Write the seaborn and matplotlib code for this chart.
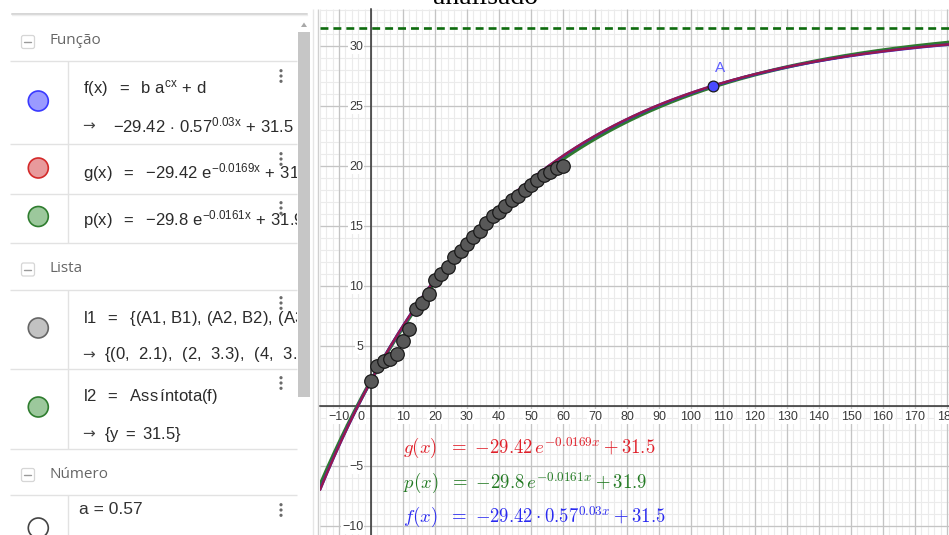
import numpy as np
import pandas as pd
import matplotlib
matplotlib.use("Agg")
import matplotlib.pyplot as plt
import seaborn as sns
from matplotlib.patches import Circle, Rectangle, FancyBboxPatch, Polygon
from matplotlib.transforms import Bbox, TransformedBbox
from matplotlib.ticker import MultipleLocator, FixedLocator

# ---- data: list l1 (time, value) ----
x_data = [0, 2, 4, 6, 8, 10, 12, 14, 16, 18, 20, 22, 24, 26, 28, 30,
          32, 34, 36, 38, 40, 42, 44, 46, 48, 50, 52, 54, 56, 58, 60]
y_data = [2.1, 3.3, 3.7, 3.9, 4.3, 5.4, 6.4, 8.1, 8.6, 9.3, 10.5, 11.0,
          11.6, 12.4, 12.9, 13.5, 14.1, 14.6, 15.2, 15.8, 16.1, 16.6,
          17.1, 17.5, 18.0, 18.4, 18.8, 19.2, 19.5, 19.8, 20.0]

# ---- fitted models ----
g_coef = (-29.42, -0.0169, 31.5)          # g(x) = A e^(k x) + C
p_coef = (-29.8, -0.0161, 31.9)           # p(x) = A e^(k x) + C
f_b, f_a, f_c, f_d = -29.42, 0.57, 0.03, 31.5   # f(x) = b a^(c x) + d
asymptote_y = 31.5
point_a_x = 107

x_tick_vals = [-10, 10, 20, 30, 40, 50, 60, 70, 80, 90, 100, 110, 120,
               130, 140, 150, 160, 170, 180]
y_tick_vals = [-10, -5, 5, 10, 15, 20, 25, 30]

sns.set_theme(style="white")
plt.rcParams["font.family"] = ["Liberation Sans", "DejaVu Sans"]
plt.rcParams["mathtext.fontset"] = "custom"
plt.rcParams["mathtext.rm"] = "Liberation Sans"
plt.rcParams["mathtext.it"] = "Liberation Sans"
plt.rcParams["mathtext.bf"] = "Liberation Sans:bold"
plt.rcParams["axes.unicode_minus"] = True

W, H = 949, 535
fig = plt.figure(figsize=(W / 100, H / 100), dpi=100)
fig.patch.set_facecolor("white")

# ---------------- algebra panel (pixel coordinates) ----------------
pan = fig.add_axes([0, 0, 1, 1], zorder=0)
pan.set_xlim(0, W)
pan.set_ylim(H, 0)
pan.axis("off")
pan.patch.set_alpha(0)

clip = TransformedBbox(Bbox([[0, 0], [297, H]]), pan.transData)
LINE = "#e2e2e2"
TXT = "#2b2b2b"
EXPR = 12


def ptext(x, y, s, size=EXPR, color=TXT, **kw):
    t = pan.text(x, y, s, fontsize=size, color=color, va="center", ha="left", **kw)
    t.set_clip_box(clip)
    t.set_clip_on(True)
    return t


def arrow(y):
    ptext(82, y, "\u2192", size=11, family="DejaVu Sans", color="#444444")


def hline(y, x0=10, x1=297):
    pan.plot([x0, x1], [y, y], color=LINE, lw=1.0, solid_capstyle="butt")


def vline(x, y0, y1, color=LINE, lw=1.0):
    pan.plot([x, x], [y0, y1], color=color, lw=lw, solid_capstyle="butt")


def header(y, label):
    pan.add_patch(FancyBboxPatch((21.5, y - 6.5), 13, 13,
                                 boxstyle="round,pad=0,rounding_size=2",
                                 fc="white", ec="#d6d6d6", lw=0.9))
    pan.plot([24.5, 31.5], [y, y], color="#9a9a9a", lw=1.0)
    ptext(50, y - 1, label, size=11, color="#666666", family="Open Sans")


def dot(y, fc, ec):
    pan.add_patch(Circle((38.3, y), 10, fc=fc, ec=ec, lw=1.2, zorder=3))


def menu(y):
    for dy in (-5.3, 0, 5.3):
        pan.add_patch(Circle((281, y + dy), 1.6, fc="#6b6b6b", ec="none", zorder=6))


# input bar shadow at the top
pan.plot([12, 307], [14, 14], color="#d5d5d5", lw=1.4)
pan.plot([12, 307], [15.3, 15.3], color="#eeeeee", lw=1.0)

# Função block
header(42, "Função")
hline(61)
hline(144.3)
hline(193.5)
hline(243.3)
vline(67.7, 61, 243.3)
dot(101, "#9a9aff", "#3a3aff")
dot(168, "#e89a9c", "#d42a2a")
dot(216.5, "#9cc89c", "#2f7d2f")
ptext(83, 88, r"$f(x)\ \ =\ \ b\ a^{cx}\,+\,d$")
arrow(126)
ptext(113, 125, r"${-}%.2f\,\cdot\,%.2f^{%.2fx}\,+\,%.1f$" % (-f_b, f_a, f_c, f_d))
ptext(83, 173, r"$g(x)\ \ =\ \ {-}%.2f\ e^{-%.4fx}\,+\,%.1f$" % (-g_coef[0], -g_coef[1], g_coef[2]))
ptext(83, 220, r"$p(x)\ \ =\ \ {-}%.1f\ e^{-%.4fx}\,+\,%.1f$" % (-p_coef[0], -p_coef[1], p_coef[2]))
menu(76)
menu(159)
menu(208)

# Lista block
header(269.5, "Lista")
hline(290)
hline(369.3)
hline(449.3)
vline(67.7, 290, 449.3)
dot(328, "#c2c2c2", "#666666")
dot(407, "#9cc89c", "#2f7d2f")
defs = ",".join(r"\,(A%d,\,B%d)" % (i + 1, i + 1) for i in range(6))
ptext(83, 318, r"$l1\ \ =\ \ \{%s\}$" % defs[2:])
pairs = ",".join(r"\ \,(%g,\ \,%g)" % (a, b) for a, b in zip(x_data[:6], y_data[:6]))
arrow(355)
ptext(104, 354, r"$\{%s\}$" % pairs[4:])
ptext(83, 396, r"$l2\ \ =\ \ \mathrm{Ass\,íntota}(f)$")
arrow(434)
ptext(104, 434, r"$\{y\ =\ %.1f\}$" % asymptote_y)
menu(303)
menu(383)

# Número block
header(475, "Número")
hline(495)
vline(67.7, 495, H)
dot(528, "white", "#444444")
ptext(79, 510, "a = %.2f" % f_a, size=12.5, color="#333333")
menu(510)

# scrollbar and panel borders
pan.add_patch(Rectangle((298, 32), 12, 365, fc="#c6c6c6", ec="none"))
pan.add_patch(Polygon([[301, 27], [307, 27], [304, 22.5]], closed=True,
                      fc="#a8a8a8", ec="none"))
vline(313.5, 9, H, color="#e6e6e6")
vline(318.5, 9, H, color="#d0d0d0")

# ---------------- graphics view ----------------
GX0, GY0 = 320, 9
X0PX, Y0PX = 371.0, 405.7
SX, SY = 3.2, 12.0
ax = fig.add_axes([GX0 / W, 0, (W - GX0) / W, (H - GY0) / H], zorder=1)
xmin, xmax = (GX0 - X0PX) / SX, (W - X0PX) / SX
ymin, ymax = (Y0PX - H) / SY, (Y0PX - GY0) / SY
ax.set_xlim(xmin, xmax)
ax.set_ylim(ymin, ymax)
ax.set_facecolor("white")

# background grid: fine lines every 2 (x) / 1 (y), strong every 10 / 5
minor_x = MultipleLocator(2).tick_values(xmin, xmax)
minor_y = MultipleLocator(1).tick_values(ymin, ymax)
major_x = MultipleLocator(10).tick_values(xmin, xmax)
major_y = MultipleLocator(5).tick_values(ymin, ymax)
ax.vlines(minor_x, ymin, ymax, color="#ebebeb", lw=0.8, zorder=0.1)
ax.hlines(minor_y, xmin, xmax, color="#ebebeb", lw=0.8, zorder=0.1)
ax.vlines(major_x, ymin, ymax, color="#c4c4c4", lw=0.9, zorder=0.2)
ax.hlines(major_y, xmin, xmax, color="#c4c4c4", lw=0.9, zorder=0.2)
ax.set_xlim(xmin, xmax)
ax.set_ylim(ymin, ymax)

ax.xaxis.set_major_locator(FixedLocator(x_tick_vals))
ax.yaxis.set_major_locator(FixedLocator(y_tick_vals))
ax.grid(False)
ax.set_axisbelow(True)

for side in ("top", "right"):
    ax.spines[side].set_visible(False)
for side in ("left", "bottom"):
    ax.spines[side].set_position("zero")
    ax.spines[side].set_color("#303030")
    ax.spines[side].set_linewidth(1.1)
ax.tick_params(which="both", length=0)
ax.tick_params(axis="x", pad=3.5, labelsize=9, labelcolor="#3a3a3a")
ax.tick_params(axis="y", pad=5.5, labelsize=9, labelcolor="#3a3a3a")
ax.set_xticklabels([str(v).replace("-", "\u2212") for v in x_tick_vals])
ax.set_yticklabels([str(v).replace("-", "\u2212") for v in y_tick_vals])
zero_lab = ax.annotate("0", xy=(0, 0), xytext=(-10, -11), textcoords="offset pixels",
                       ha="center", va="center", fontsize=9, color="#3a3a3a", zorder=0.6)
zero_lab.set_bbox(dict(fc="white", ec="none", pad=0.8))

# model curves
xc = np.linspace(xmin, xmax, 800)
curves = pd.DataFrame({
    "x": xc,
    "p": p_coef[0] * np.exp(p_coef[1] * xc) + p_coef[2],
    "f": f_b * f_a ** (f_c * xc) + f_d,
    "g": g_coef[0] * np.exp(g_coef[1] * xc) + g_coef[2],
})
sns.lineplot(data=curves, x="x", y="p", color="#2f7a2f", lw=2.6, ax=ax, zorder=3)
sns.lineplot(data=curves, x="x", y="f", color="#3030d0", lw=2.0, ax=ax, zorder=3)
sns.lineplot(data=curves, x="x", y="g", color="#98184f", lw=1.7, ax=ax, zorder=3)

# asymptote of f
ax.axhline(asymptote_y, color="#0d6b0d", lw=1.9, dashes=(3.0, 1.9), zorder=3)

# data points
sns.scatterplot(x=x_data, y=y_data, s=95, color="#585858", edgecolor="#1a1a1a",
                linewidth=0.9, ax=ax, zorder=5)

# point A on f
a_y = f_b * f_a ** (f_c * point_a_x) + f_d
sns.scatterplot(x=[point_a_x], y=[a_y], s=60, color="#4a4aff", edgecolor="#1a1a1a",
                linewidth=0.9, ax=ax, zorder=6)
ax.annotate("A", xy=(point_a_x, a_y), xytext=(7, 18), textcoords="offset pixels",
            ha="center", va="center", fontsize=11, color="#5f5fff")

ax.set_xlabel("")
ax.set_ylabel("")
ax.set_xlim(xmin, xmax)
ax.set_ylim(ymin, ymax)

# white boxes behind the axis numbers
fig.canvas.draw()
for lab in ax.get_xticklabels() + ax.get_yticklabels():
    lab.set_bbox(dict(fc="white", ec="none", pad=0.8))


def gpos(px, py):
    return (px - GX0) / (W - GX0), 1 - (py - GY0) / (H - GY0)


eq_style = dict(transform=ax.transAxes, ha="left", va="center",
                fontsize=13.5, math_fontfamily="cm", zorder=7)
ax.text(*gpos(403, 448),
        r"$g(x)\ \ =\ {-}%.2f\,e^{-%.4fx}+%.1f$" % (-g_coef[0], -g_coef[1], g_coef[2]),
        color="#e0202a", **eq_style)
ax.text(*gpos(403, 483),
        r"$p(x)\ \ =\ {-}%.1f\,e^{-%.4fx}+%.1f$" % (-p_coef[0], -p_coef[1], p_coef[2]),
        color="#237a23", **eq_style)
ax.text(*gpos(403, 517),
        r"$f(x)\ \ =\ {-}%.2f\cdot %.2f^{%.2fx}+%.1f$" % (-f_b, f_a, f_c, f_d),
        color="#2a2af0", **eq_style)

# page heading, mostly scrolled out of view
fig.text(486 / W, 1 - 3.5 / H, "analisado", ha="center", va="baseline",
         fontsize=20, family="Liberation Serif", color="black", zorder=10)

fig.savefig("out.png", dpi=100)
